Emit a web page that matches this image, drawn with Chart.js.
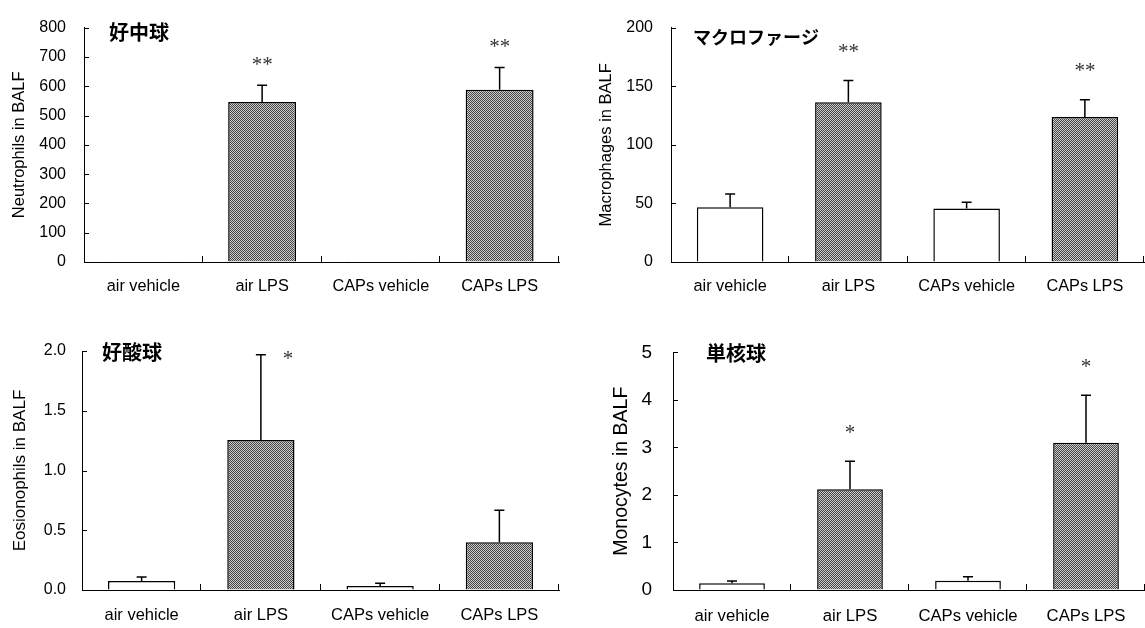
<!DOCTYPE html>
<html>
<head>
<meta charset="utf-8">
<script src="https://cdn.jsdelivr.net/npm/chart.js@4"></script>
<style>
html,body{margin:0;padding:0;background:#fff;}
#wrap{position:relative;width:1145px;height:628px;overflow:hidden;background:#fff;}
canvas{position:absolute;}
</style>
</head>
<body>
<div id="wrap">
<canvas id="c1" width="572" height="300" style="left:0;top:0"></canvas>
<canvas id="c2" width="572" height="300" style="left:573px;top:0"></canvas>
<canvas id="c3" width="572" height="308" style="left:0;top:320px"></canvas>
<canvas id="c4" width="572" height="308" style="left:573px;top:320px"></canvas>
</div>
<script>
// ---- data ----
const categories = ['air vehicle', 'air LPS', 'CAPs vehicle', 'CAPs LPS'];

const neutrophilMeans = [0.5, 546, 0.5, 588];
const neutrophilErrors = [0, 57, 0, 76];
const neutrophilStars = ['', '**', '', '**'];
const neutrophilTicks = [0, 100, 200, 300, 400, 500, 600, 700, 800];

const macrophageMeans = [46.7, 136.3, 45.6, 123.7];
const macrophageErrors = [11.4, 18.6, 5.3, 14.7];
const macrophageStars = ['', '**', '', '**'];
const macrophageTicks = [0, 50, 100, 150, 200];

const eosinophilMeans = [0.075, 1.255, 0.033, 0.399];
const eosinophilErrors = [0.034, 0.714, 0.023, 0.268];
const eosinophilStars = ['', '*', '', ''];
const eosinophilTicks = [0.0, 0.5, 1.0, 1.5, 2.0];

const monocyteMeans = [0.14, 2.12, 0.196, 3.10];
const monocyteErrors = [0.05, 0.59, 0.084, 1.0];
const monocyteStars = ['', '*', '', '*'];
const monocyteTicks = [0, 1, 2, 3, 4, 5];

const panelTitles = ['好中球', 'マクロファージ', '好酸球', '単核球'];
const yTitles = ['Neutrophils in BALF', 'Macrophages in BALF', 'Eosionophils in BALF', 'Monocytes in BALF'];

// ---- styling helpers ----
function makePattern(ctx) {
  const c = document.createElement('canvas');
  c.width = 2; c.height = 2;
  const x = c.getContext('2d');
  x.fillStyle = '#cccccc'; x.fillRect(0, 0, 2, 2);
  x.fillStyle = '#454545'; x.fillRect(0, 0, 1, 1); x.fillRect(1, 1, 1, 1);
  return ctx.createPattern(c, 'repeat');
}

const overlay = {
  id: 'overlay',
  afterDatasetsDraw(chart) {
    const o = chart.options.plugins.overlay;
    const ctx = chart.ctx;
    const xs = chart.scales.x, ys = chart.scales.y;
    const meta = chart.getDatasetMeta(0);
    const ds = chart.data.datasets[0];
    ctx.save();
    // error bars (upper)
    ctx.strokeStyle = '#000';
    ctx.lineWidth = 1.5;
    meta.data.forEach((bar, i) => {
      const err = o.errors[i];
      if (!err) return;
      const yTop = ys.getPixelForValue(ds.data[i]);
      const yErr = ys.getPixelForValue(ds.data[i] + err);
      ctx.beginPath();
      ctx.moveTo(bar.x, yTop);
      ctx.lineTo(bar.x, yErr);
      ctx.moveTo(bar.x - 5, yErr);
      ctx.lineTo(bar.x + 5, yErr);
      ctx.stroke();
    });
    // significance stars
    ctx.fillStyle = '#333';
    ctx.font = o.starFont;
    ctx.textAlign = 'center';
    ctx.textBaseline = 'middle';
    meta.data.forEach((bar, i) => {
      const s = o.stars[i];
      if (!s) return;
      const yErr = ys.getPixelForValue(ds.data[i] + o.errors[i]);
      ctx.fillText(s, bar.x + o.starDx, yErr - o.starDy);
    });
    // inward tick marks
    ctx.strokeStyle = '#000';
    ctx.lineWidth = 1;
    ctx.beginPath();
    ys.ticks.forEach(t => {
      const py = Math.round(ys.getPixelForValue(t.value)) + 0.5;
      ctx.moveTo(ys.right, py);
      ctx.lineTo(ys.right + 5, py);
    });
    const n = chart.data.labels.length;
    for (let i = 1; i <= n; i++) {
      const px = Math.round(xs.left + (xs.right - xs.left) * i / n) - 0.5;
      ctx.moveTo(px, xs.top);
      ctx.lineTo(px, xs.top - 6);
    }
    ctx.stroke();
    // panel title
    ctx.fillStyle = '#000';
    ctx.font = 'bold ' + o.titleSize + 'px "Noto Sans CJK JP"';
    ctx.textAlign = 'left';
    ctx.textBaseline = 'middle';
    ctx.fillText(o.title, chart.chartArea.left + o.titleDx, chart.chartArea.top + o.titleDy);
    ctx.restore();
  }
};

function makeChart(id, p) {
  const canvas = document.getElementById(id);
  const ctx = canvas.getContext('2d');
  const pat = makePattern(ctx);
  return new Chart(ctx, {
    type: 'bar',
    data: {
      labels: categories,
      datasets: [{
        data: p.means,
        backgroundColor: ['#ffffff', pat, '#ffffff', pat],
        borderColor: '#000',
        borderWidth: 1.5,
        borderSkipped: 'bottom',
        barPercentage: p.barPct,
        categoryPercentage: 1
      }]
    },
    options: {
      responsive: false,
      animation: false,
      devicePixelRatio: 1,
      layout: { padding: { left: 0, top: p.padTop, right: p.padRight, bottom: 0 } },
      plugins: {
        legend: { display: false },
        tooltip: { enabled: false },
        overlay: {
          errors: p.errors, stars: p.stars, title: p.title, titleSize: p.titleSize,
          titleDx: p.titleDx, titleDy: p.titleDy,
          starDx: p.starDx, starDy: p.starDy,
          starFont: '21px "Liberation Serif"'
        }
      },
      scales: {
        x: {
          grid: { display: true, drawOnChartArea: false, drawTicks: false },
          border: { display: true, color: '#000', width: 1 },
          ticks: { color: '#000', font: { family: 'Liberation Sans', size: p.xLabelSize }, padding: p.xTickPad, maxRotation: 0 },
          afterFit(s) { s.height = p.xAxisHeight; }
        },
        y: {
          min: p.ticks[0], max: p.ticks[p.ticks.length - 1],
          afterBuildTicks(s) { s.ticks = p.ticks.map(v => ({ value: v })); },
          grid: { display: true, drawOnChartArea: false, drawTicks: false },
          border: { display: true, color: '#000', width: 1 },
          ticks: {
            color: '#000', font: { family: 'Liberation Sans', size: p.tickSize }, padding: p.yTickPad,
            callback: v => p.decimals ? Number(v).toFixed(p.decimals) : String(v)
          },
          title: {
            display: true, text: p.yTitle, color: '#000',
            font: { family: 'Liberation Sans', size: p.yTitleSize },
            padding: { top: p.yTitlePad, bottom: 0 }
          },
          afterFit(s) { s.width = p.yAxisWidth; }
        }
      }
    },
    plugins: [overlay]
  });
}

makeChart('c1', {
  means: neutrophilMeans, errors: neutrophilErrors, stars: neutrophilStars, ticks: neutrophilTicks,
  title: panelTitles[0], yTitle: yTitles[0], decimals: 0, barPct: 0.572,
  padTop: 17, padRight: 13, yAxisWidth: 84, xAxisHeight: 38, xTickPad: 15, yTickPad: 18,
  yTitlePad: 10, yTitleSize: 16.5, tickSize: 16, xLabelSize: 16.3, titleSize: 20,
  titleDx: 25, titleDy: 5, starDx: 0, starDy: 20
});
makeChart('c2', {
  means: macrophageMeans, errors: macrophageErrors, stars: macrophageStars, ticks: macrophageTicks,
  title: panelTitles[1], yTitle: yTitles[1], decimals: 0, barPct: 0.563,
  padTop: 12, padRight: 1, yAxisWidth: 98, xAxisHeight: 38, xTickPad: 15, yTickPad: 18,
  yTitlePad: 24, yTitleSize: 16.5, tickSize: 16, xLabelSize: 16.3, titleSize: 18,
  titleDx: 22, titleDy: 10, starDx: 0, starDy: 28
});
makeChart('c3', {
  means: eosinophilMeans, errors: eosinophilErrors, stars: eosinophilStars, ticks: eosinophilTicks,
  title: panelTitles[2], yTitle: yTitles[2], decimals: 1, barPct: 0.564,
  padTop: 31, padRight: 13, yAxisWidth: 82, xAxisHeight: 38, xTickPad: 16, yTickPad: 16,
  yTitlePad: 10, yTitleSize: 17, tickSize: 16, xLabelSize: 16.5, titleSize: 20,
  titleDx: 20, titleDy: 1, starDx: 27, starDy: -5
});
makeChart('c4', {
  means: monocyteMeans, errors: monocyteErrors, stars: monocyteStars, ticks: monocyteTicks,
  title: panelTitles[3], yTitle: yTitles[3], decimals: 0, barPct: 0.557,
  padTop: 32, padRight: 0, yAxisWidth: 100, xAxisHeight: 38, xTickPad: 16, yTickPad: 21,
  yTitlePad: 37, yTitleSize: 19.5, tickSize: 19, xLabelSize: 16.7, titleSize: 20,
  titleDx: 33, titleDy: 1, starDx: 0, starDy: 28
});
</script>
</body>
</html>
